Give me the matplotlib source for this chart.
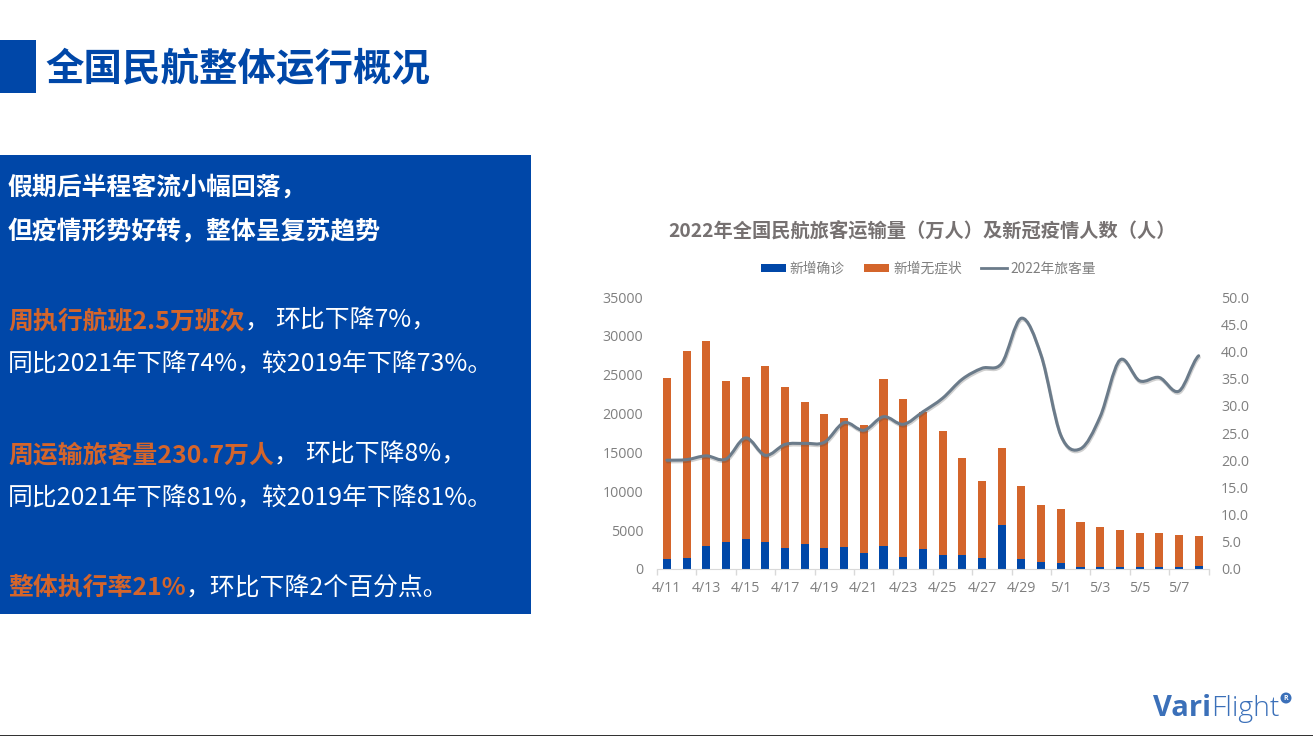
import matplotlib
matplotlib.use('Agg')
import matplotlib.pyplot as plt
from matplotlib.path import Path
from matplotlib.patches import PathPatch, Rectangle, Circle
from matplotlib.lines import Line2D
from matplotlib.ticker import FixedLocator, FixedFormatter
import matplotlib.patheffects as pe

plt.rcParams['font.family'] = ['Noto Sans CJK SC', 'DejaVu Sans']

W, H = 1313, 736

days = ['4/11','4/12','4/13','4/14','4/15','4/16','4/17','4/18','4/19','4/20',
        '4/21','4/22','4/23','4/24','4/25','4/26','4/27','4/28','4/29','4/30',
        '5/1','5/2','5/3','5/4','5/5','5/6','5/7','5/8']
confirmed = [1250,1450,3000,3450,3800,3500,2700,3250,2750,2800,2100,2900,1500,2600,
             1850,1750,1450,5600,1350,850,800,300,300,300,300,300,250,350]
totals = [24600,28000,29350,24250,24750,26100,23400,21550,19900,19450,18550,24400,21850,20200,
          17750,14250,11300,15600,10700,8250,7750,6000,5450,5050,4670,4630,4400,4300]
asymptomatic = [t - c for t, c in zip(totals, confirmed)]
passengers = [20.0,20.1,20.8,20.2,24.1,20.9,22.9,23.1,23.3,26.9,25.5,28.0,26.6,28.9,
              31.4,34.9,36.9,37.8,46.1,39.3,24.6,22.1,28.0,38.4,34.6,35.2,32.7,39.2]
left_ticks = [0,5000,10000,15000,20000,25000,30000,35000]
right_ticks = [0,5,10,15,20,25,30,35,40,45,50]

BLUE = '#0047A8'
ORANGE = '#D4652B'
GREY_LINE = '#6B7B8A'
TEXT = '#7F7F7F'
LATIN = ['Open Sans', 'DejaVu Sans']

fig = plt.figure(figsize=(W/100, H/100), dpi=100, facecolor='white')

# slide layer in pixel coordinates
bg = fig.add_axes([0, 0, 1, 1])
bg.set_xlim(0, W); bg.set_ylim(H, 0); bg.axis('off')
bg.add_patch(Rectangle((0, 40), 36, 53, color=BLUE, lw=0))
bg.add_patch(Rectangle((0, 155), 531, 459, color=BLUE, lw=0))
bg.add_patch(Rectangle((0, 735), W, 1, color='#333333', lw=0))
bg.text(45, 70, '全国民航整体运行概况', fontsize=27.7, fontweight='bold', color=BLUE, va='center')

r = fig.canvas.get_renderer()
def segs(x, y, parts, size=17.9):
    for s, col, wt in parts:
        t = bg.text(x, y, s, fontsize=size, color=col, fontweight=wt, va='center')
        x += t.get_window_extent(r).width

WHITE = 'white'
segs(8, 187, [('假期后半程客流小幅回落，', WHITE, 'bold')])
segs(8, 231, [('但疫情形势好转，整体呈复苏趋势', WHITE, 'bold')])
segs(8, 321, [('周执行航班2.5万班次', ORANGE, 'bold'), ('，', WHITE, 'normal')])
segs(275, 321, [('环比下降7%，', WHITE, 'normal')])
segs(8, 365, [('同比2021年下降74%，较2019年下降73%。', WHITE, 'normal')])
segs(8, 455, [('周运输旅客量230.7万人', ORANGE, 'bold'), ('，', WHITE, 'normal')])
segs(305, 455, [('环比下降8%，', WHITE, 'normal')])
segs(8, 499, [('同比2021年下降81%，较2019年下降81%。', WHITE, 'normal')])
segs(8, 588, [('整体执行率21%', ORANGE, 'bold'), ('，环比下降2个百分点。', WHITE, 'normal')])

# chart
ax = fig.add_axes([657/W, 1-569/H, (1208.5-657)/W, (569-297)/H])
ax.patch.set_alpha(0)
x = list(range(len(days)))
bw = 0.41
ax.bar(x, confirmed, bw, color=BLUE, label='新增确诊', zorder=2)
ax.bar(x, asymptomatic, bw, bottom=confirmed, color=ORANGE, label='新增无症状', zorder=2)
ax.set_xlim(-0.5, len(days)-0.5)
ax.set_ylim(0, 35000)
ax.set_yticks(left_ticks)
ax.xaxis.set_major_locator(FixedLocator(x[::2]))
ax.xaxis.set_major_formatter(FixedFormatter(days[::2]))
ax.set_xticks([i-0.5 for i in range(0, len(days)+1, 2)], minor=True)
ax.tick_params(axis='x', which='major', length=0, labelsize=10.2, labelcolor=TEXT, pad=9)
ax.tick_params(axis='x', which='minor', length=4, color='#D9D9D9', width=1)
ax.tick_params(axis='y', length=0, labelsize=10.2, labelcolor=TEXT, pad=10)
for lab in ax.get_xticklabels() + ax.get_yticklabels():
    lab.set_family(LATIN)
for s in ['top', 'left', 'right']:
    ax.spines[s].set_visible(False)
ax.spines['bottom'].set_color('#D9D9D9')

ax2 = ax.twinx()
ax2.patch.set_alpha(0)
ax2.set_ylim(0, 50)
ax2.set_yticks(right_ticks)
ax2.set_yticklabels([f'{v:.1f}' for v in right_ticks], family=LATIN)
ax2.tick_params(axis='y', length=0, labelsize=10.2, labelcolor=TEXT, pad=9)
for s in ax2.spines.values():
    s.set_visible(False)

# smoothed line: Bezier through the values, with control points from neighbours
verts = [(x[0], passengers[0])]
codes = [Path.MOVETO]
n = len(x)
k = 1/6
for i in range(n-1):
    p0 = passengers[max(i-1, 0)]; p1 = passengers[i]
    p2 = passengers[i+1]; p3 = passengers[min(i+2, n-1)]
    verts += [(x[i]+2*k, p1+(p2-p0)*k), (x[i+1]-2*k, p2-(p3-p1)*k), (x[i+1], p2)]
    codes += [Path.CURVE4]*3
line = PathPatch(Path(verts, codes), fc='none', ec=GREY_LINE, lw=2.2, capstyle='round', zorder=5,
                 path_effects=[pe.SimpleLineShadow(offset=(0.5, -1.2), shadow_color='#444444', alpha=0.25),
                               pe.Normal()])
ax2.add_patch(line)

# title and legend
bg.text(922, 231, '2022年全国民航旅客运输量（万人）及新冠疫情人数（人）', fontsize=13.85,
        fontweight='bold', color='#767171', ha='center', va='center')
labels = ['新增确诊', '新增无症状', '2022年旅客量']
bg.add_patch(Rectangle((761, 264), 25, 8, color=BLUE, lw=0))
bg.add_patch(Rectangle((864, 264), 25, 8, color=ORANGE, lw=0))
bg.add_line(Line2D([981, 1007], [268, 268], color=GREY_LINE, lw=2))
for tx, s in zip([789, 893, 1010], labels):
    bg.text(tx, 269, s, fontsize=9.9, color=TEXT, va='center')

# logo
t = bg.text(1153, 709, 'Vari', fontsize=21, fontweight='bold', color='#3B70B9', va='center', family=LATIN)
x2 = 1153 + t.get_window_extent(r).width
bg.text(x2, 709, 'Flight', fontsize=20.5, fontweight='light', color='#3B70B9', va='center', family=LATIN)
bg.add_patch(Circle((1286, 698), 5.5, color='#3B70B9', lw=0))
bg.text(1286, 698, 'R', fontsize=5, color='white', ha='center', va='center', fontweight='bold', family=LATIN)

fig.savefig('out.png', dpi=100, facecolor='white')
